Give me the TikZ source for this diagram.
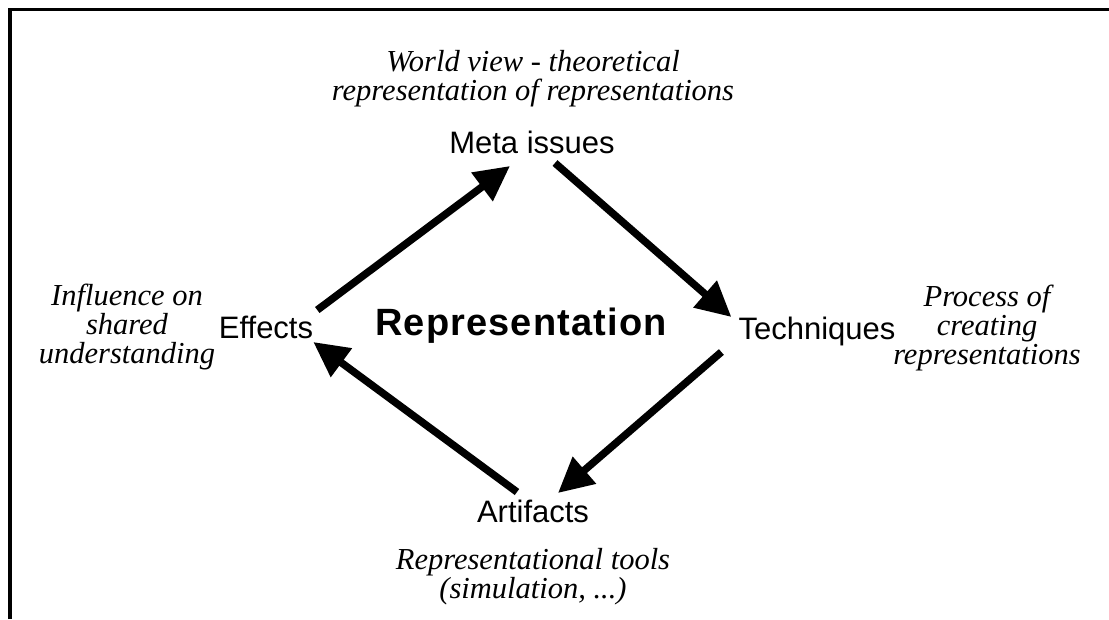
\documentclass[tikz,border=0pt]{standalone}
\usepackage{fontspec}
\setmainfont{Liberation Serif}
\setsansfont{Liberation Sans}
\newfontfamily\repfont[LetterSpace=3]{Liberation Sans}
\usetikzlibrary{arrows.meta}
\begin{document}
\begin{tikzpicture}[x=1pt,y=-1pt,
  lbl/.style={font=\sffamily\fontsize{31}{36}\selectfont, inner sep=0pt, anchor=base},
  note/.style={font=\itshape\fontsize{30.5}{29}\selectfont, inner sep=0pt, align=center, anchor=base},
  arr/.style={line width=7.5pt, -{Triangle[length=35pt,width=34pt]}},
  frame/.style={line width=3.5pt}]
\useasboundingbox (0,0) rectangle (1109,619);
\draw[frame] (10,619) -- (10,9.5) -- (1109,9.5);

\node[lbl] (meta) at (532,153) {Meta issues};
\node[lbl] (eff) at (266,338) {Effects};
\node[lbl] (tech) at (817,339) {Techniques};
\node[lbl] (art) at (533,522) {Artifacts};
\node[inner sep=0pt, anchor=base, font=\repfont\bfseries\fontsize{38}{44}\selectfont] (rep) at (521,335) {Representation};

% multi-line notes: anchor=base is the baseline of the last line
\node[note] (wv) at (533,100) {World view - theoretical\\representation of representations};
\node[note] (inf) at (127,363) {Influence on\\shared\\understanding};
\node[note] (proc) at (987,364) {Process of\\creating\\representations};
\node[note] (tools) at (533,598) {Representational tools\\(simulation, ...)};

\draw[arr] ([shift={(4,-28)}]eff.base east) -- ([shift={(-22,13)}]meta.base);
\draw[arr] ([shift={(23,10)}]meta.base) -- ([shift={(-7,-22)}]tech.base west);
\draw[arr] ([shift={(-17,13)}]tech.base west) -- ([shift={(25,-29)}]art.base);
\draw[arr] ([shift={(-16,-30)}]art.base) -- ([shift={(0,4)}]eff.base east);
\end{tikzpicture}
\end{document}
